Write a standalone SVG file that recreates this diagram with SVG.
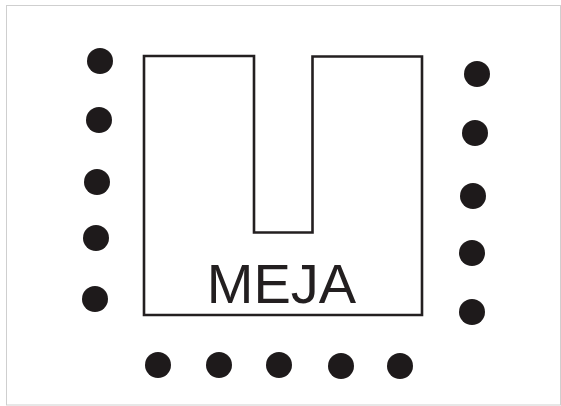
<svg xmlns="http://www.w3.org/2000/svg" width="561" height="406" viewBox="0 0 561 406">
<style>
.dot{fill:#1e1a1b}
.tbl{fill:none;stroke:#231f20;stroke-width:2.6}
.lbl{font-family:"Liberation Sans",Arial,sans-serif;font-size:56px;fill:#231f20;text-anchor:middle}
</style>
<rect x="0" y="0" width="561" height="406" fill="#ffffff"/>
<rect x="6.5" y="5.5" width="554" height="399.5" fill="none" stroke="#cfcfcf" stroke-width="1"/>
<g id="meja">
<path class="tbl" d="M144 56 H254 V232.5 H312.5 V56.5 H422 V315 H144 Z"/>
<text class="lbl" x="281.5" y="303">MEJA</text>
</g>
<g id="left-chairs">
<circle class="dot" cx="100" cy="61" r="13"/>
<circle class="dot" cx="99" cy="120" r="13"/>
<circle class="dot" cx="97" cy="182" r="13"/>
<circle class="dot" cx="96" cy="238" r="13"/>
<circle class="dot" cx="95" cy="299" r="13"/>
</g>
<g id="right-chairs">
<circle class="dot" cx="477" cy="74" r="13"/>
<circle class="dot" cx="475" cy="133" r="13"/>
<circle class="dot" cx="473" cy="196" r="13"/>
<circle class="dot" cx="472" cy="253" r="13"/>
<circle class="dot" cx="472" cy="312" r="13"/>
</g>
<g id="bottom-chairs">
<circle class="dot" cx="158" cy="365" r="13"/>
<circle class="dot" cx="219" cy="365" r="13"/>
<circle class="dot" cx="279" cy="365" r="13"/>
<circle class="dot" cx="341" cy="366" r="13"/>
<circle class="dot" cx="400" cy="366" r="13"/>
</g>
</svg>
